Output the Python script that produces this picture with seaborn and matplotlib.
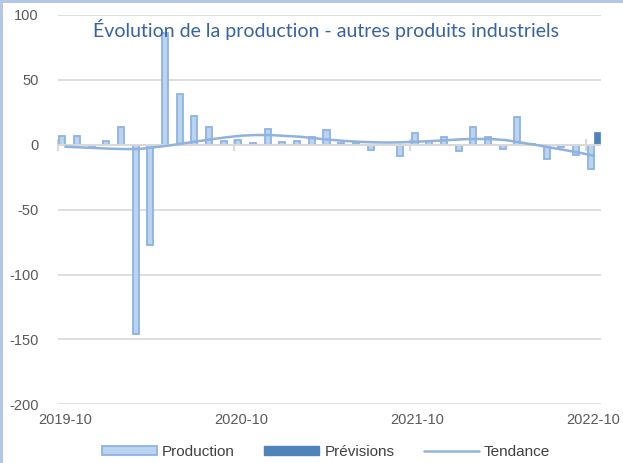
import numpy as np
import pandas as pd
import seaborn as sns
import matplotlib
matplotlib.use("Agg")
import matplotlib.pyplot as plt
from matplotlib.patches import Patch, Rectangle
from matplotlib.lines import Line2D

# ---- data ----
months = pd.period_range("2019-10", "2022-10", freq="M").strftime("%Y-%m").tolist()
production = [7, 7, -1, 3, 14, -146, -77, 86, 39, 22, 14, 3,
              4, 1, 12, 2, 3, 6, 11, 1.5, 1, -4, -0.5, -9,
              9, 3, 6, -5, 14, 6, -3, 21.5, 0.5, -11, -1.5, -8, -19]
forecast = [np.nan] * 36 + [10]
trend = [-1.5, -2, -2.5, -3, -3.3, -3.3, -2, -0.7, 1, 2.7, 4.3, 5.8,
         7, 7.5, 7.5, 6.8, 6.2, 5, 3.9, 3, 2.3, 1.9, 1.7, 1.9,
         2.4, 2.9, 3.5, 4.2, 4.5, 4.4, 3.6, 1.8, 0, -2, -4, -6, -8.5]
tick_labels = ["2019-10", "2020-10", "2021-10", "2022-10"]

df = pd.DataFrame({"mois": months, "Production": production,
                   "Prévisions": forecast, "Tendance": trend})
long = df.melt(id_vars="mois", value_vars=["Production", "Prévisions"],
               var_name="serie", value_name="valeur")

sns.set_theme(style="white")
plt.rcParams["font.family"] = ["Liberation Sans", "DejaVu Sans"]

fig = plt.figure(figsize=(6.23, 4.63), dpi=100)
ax = fig.add_axes([58 / 623, 1 - 404.3 / 463, 543 / 623, (404.3 - 15) / 463])

fill_c = "#bad3ef"
edge_c = "#8db3e2"
fc_c = "#4f84ba"
trend_c = "#8fb2de"

sns.barplot(data=long, x="mois", y="valeur", hue="serie",
            palette={"Production": fill_c, "Prévisions": fc_c},
            width=0.82, dodge=True, gap=0, ax=ax, legend=False,
            order=months, hue_order=["Production", "Prévisions"],
            saturation=1, err_kws={"linewidth": 0})
for p in ax.patches:
    if p.get_facecolor()[:3] == matplotlib.colors.to_rgb(fill_c):
        p.set_edgecolor(edge_c)
        p.set_linewidth(1.3)
    else:
        p.set_edgecolor(fc_c)
        p.set_linewidth(0.5)

sns.lineplot(x=np.arange(len(months)), y=trend, ax=ax, color=trend_c,
             linewidth=1.8, legend=False)

ax.set_ylim(-200, 100)
ax.set_xlim(-0.5, len(months) - 0.5)
ax.set_yticks(np.arange(-200, 101, 50))
ax.set_yticklabels([str(v) for v in range(-200, 101, 50)])
idx = [months.index(t) for t in tick_labels]
ax.set_xticks(idx)
ax.set_xticklabels(tick_labels)
ax.tick_params(axis="both", length=0, labelsize=10.5, labelcolor="#595959")
ax.tick_params(axis="y", pad=14)
ax.tick_params(axis="x", pad=6)
ax.set_xlabel("")
ax.set_ylabel("")
for s in ax.spines.values():
    s.set_visible(False)
ax.yaxis.grid(True, color="#d9d9d9", linewidth=1.2)
ax.set_axisbelow(True)

# horizontal axis crossing at zero with year ticks
ax.axhline(0, color="#d9d9d9", linewidth=1.5, zorder=1.5)
sec = ax.secondary_xaxis(2 / 3)
sec.set_xticks([i - 0.5 for i in idx])
sec.set_xticklabels([""] * len(idx))
sec.tick_params(direction="inout", length=8, width=1.5, color="#d9d9d9",
                labelbottom=False, labeltop=False)
sec.spines["bottom"].set_visible(False)
sec.spines["top"].set_visible(False)

# title
fig.text(326 / 623, 1 - 30 / 463,
         "Évolution de la production - autres produits industriels",
         ha="center", va="center", fontsize=14, color="#3563a3",
         family=["Lato", "DejaVu Sans"])

# legend
handles = [Patch(facecolor=fill_c, edgecolor=edge_c, linewidth=1.3, label="Production"),
           Patch(facecolor=fc_c, edgecolor=fc_c, label="Prévisions"),
           Line2D([0], [0], color=trend_c, linewidth=1.8, label="Tendance")]
fig.legend(handles=handles, loc="center", bbox_to_anchor=(326 / 623, 1 - 452 / 463),
           ncol=3, frameon=False, fontsize=11, handlelength=3.6, handleheight=0.55,
           handletextpad=0.35, columnspacing=1.9, labelcolor="#404040")

# light-blue frame at left/top
fig.patches.append(Rectangle((0, 0), 3 / 623, 1, transform=fig.transFigure,
                             facecolor="#b4c7e7", edgecolor="none"))
fig.patches.append(Rectangle((0, 1 - 3 / 463), 1, 3 / 463, transform=fig.transFigure,
                             facecolor="#b4c7e7", edgecolor="none"))

fig.savefig("out.png", dpi=100)
